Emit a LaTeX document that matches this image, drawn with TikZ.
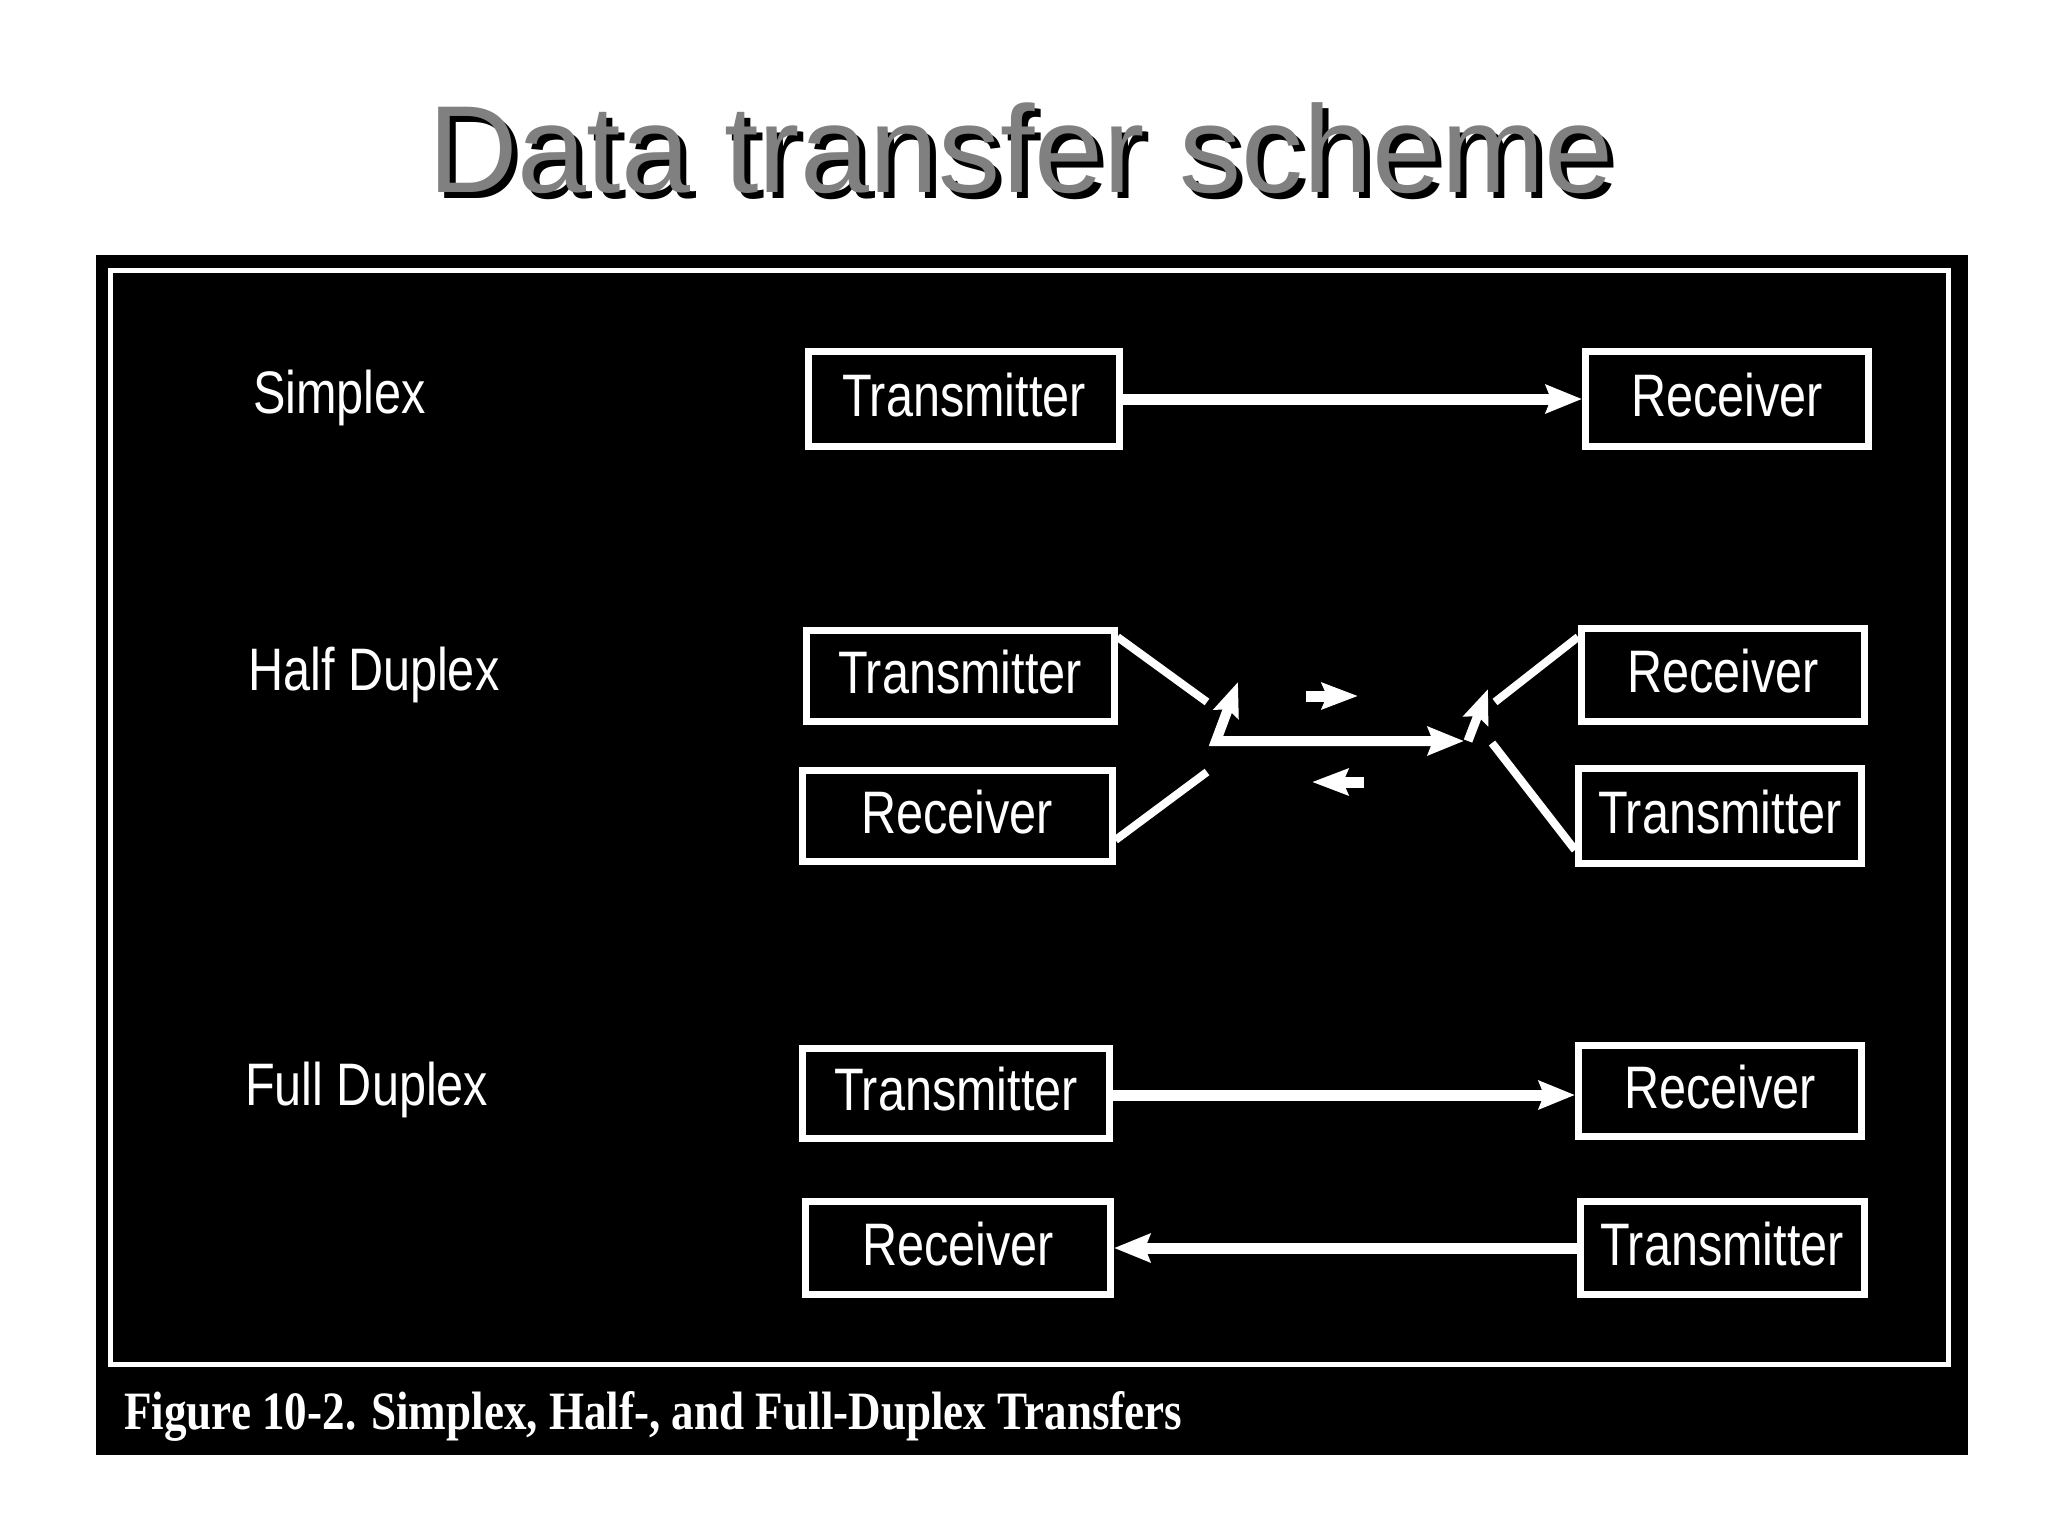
\documentclass[tikz,border=0pt]{standalone}
\usepackage{fontspec}
\setmainfont{Liberation Sans}
\newfontfamily\capfont{Liberation Serif}
\usetikzlibrary{arrows.meta,calc}
\newcommand{\sq}[1]{\scalebox{0.81}[1]{#1}}
\tikzset{
  dbox/.style={draw=white, line width=7pt, fill=black, inner sep=0pt, text=white,
    text depth=8pt, font=\fontsize{60}{72}\selectfont},
  lbl/.style={text=white, inner sep=0pt, anchor=base west, font=\fontsize{60}{72}\selectfont},
  conn/.style={white, line width=11pt, -{Stealth[length=36pt,width=28pt,inset=5pt]}},
  wire/.style={white, line width=8pt},
  lever/.style={white, line width=9pt, -{Stealth[length=34pt,width=26pt,inset=5pt]}},
}
\begin{document}
\begin{tikzpicture}[x=1pt,y=-1pt]
\useasboundingbox[fill=white] (0,0) rectangle (2048,1536);
% title with shadow
\node[anchor=base west, inner sep=0pt, font=\fontsize{124}{140}\selectfont] (title) at (428,192)
  {\rlap{\hspace{6pt}\raisebox{-6pt}{\color{black}Data transfer scheme}}\textcolor{black!50}{Data transfer scheme}};
% black panel and inner frame
\fill[black] (96,255) rectangle (1968,1455);
\draw[white, line width=5pt] (110,270) rectangle (1948,1364);
% caption
\node[anchor=base west, inner sep=0pt, text=white, font=\capfont\bfseries\fontsize{54}{64}\selectfont] (caption) at (124,1429)
  {\resizebox{1058pt}{\height}{Figure 10-2. Simplex, Half-, and Full-Duplex Transfers}};
% row labels
\node[lbl] (lsim) at (253,413) {\sq{Simplex}};
\node[lbl] (lhalf) at (248,690) {\sq{Half Duplex}};
\node[lbl] (lfull) at (245,1105) {\sq{Full Duplex}};
% simplex
\node[dbox, minimum width=311pt, minimum height=95pt] (sTx) at (964,399) {\sq{Transmitter}};
\node[dbox, minimum width=283pt, minimum height=95pt] (sRx) at (1727,399) {\sq{Receiver}};
\draw[conn] (sTx.east) -- (sRx.west);
% half duplex
\node[dbox, minimum width=308pt, minimum height=91pt] (hTx) at (960,676) {\sq{Transmitter}};
\node[dbox, minimum width=310pt, minimum height=91pt] (hRxL) at (957,816) {\sq{Receiver}};
\node[dbox, minimum width=283pt, minimum height=93pt] (hRxR) at (1723,675) {\sq{Receiver}};
\node[dbox, minimum width=283pt, minimum height=95pt] (hTxR) at (1720,816) {\sq{Transmitter}};
\coordinate (aEnd) at (1207,702);
\coordinate (bEnd) at (1207,772);
\coordinate (cEnd) at (1495,702);
\coordinate (dEnd) at (1492,743);
\coordinate (corner) at (1216,741);
\coordinate (lev1) at (1238,682);
\coordinate (hEnd) at (1464,741);
\coordinate (lev2) at (1488,689);
\draw[wire] ([yshift=-10pt]hTx.north east) -- (aEnd);
\draw[wire] ([yshift=25pt]hRxL.south east) -- (bEnd);
\draw[wire] ([yshift=-12pt]hRxR.north west) -- (cEnd);
\draw[wire] ([yshift=17pt]hTxR.south west) -- (dEnd);
\draw[white, line width=10pt, line join=miter, {Stealth[length=34pt,width=26pt,inset=5pt]}-{Stealth[length=36pt,width=28pt,inset=5pt]}] (lev1) -- (corner) -- (hEnd);
\draw[lever] ([xshift=4pt]hEnd) -- (lev2);
\coordinate (raS) at (1306,696);
\coordinate (raE) at (1358,696);
\coordinate (laS) at (1364,782);
\coordinate (laE) at (1312,782);
\draw[white, line width=11pt, -{Stealth[length=36pt,width=26pt,inset=5pt]}] (raS) -- (raE);
\draw[white, line width=11pt, -{Stealth[length=36pt,width=26pt,inset=5pt]}] (laS) -- (laE);
% full duplex
\node[dbox, minimum width=307pt, minimum height=90pt] (fTx) at (956,1093) {\sq{Transmitter}};
\node[dbox, minimum width=283pt, minimum height=91pt] (fRxR) at (1720,1091) {\sq{Receiver}};
\node[dbox, minimum width=305pt, minimum height=93pt] (fRxL) at (958,1248) {\sq{Receiver}};
\node[dbox, minimum width=284pt, minimum height=93pt] (fTxR) at (1722,1248) {\sq{Transmitter}};
\draw[conn] ([yshift=-2pt]fTx.east) -- ([yshift=-2pt]fTx.east -| fRxR.west);
\draw[conn] (fTxR.west) -- (fRxL.east);
\end{tikzpicture}
\end{document}
